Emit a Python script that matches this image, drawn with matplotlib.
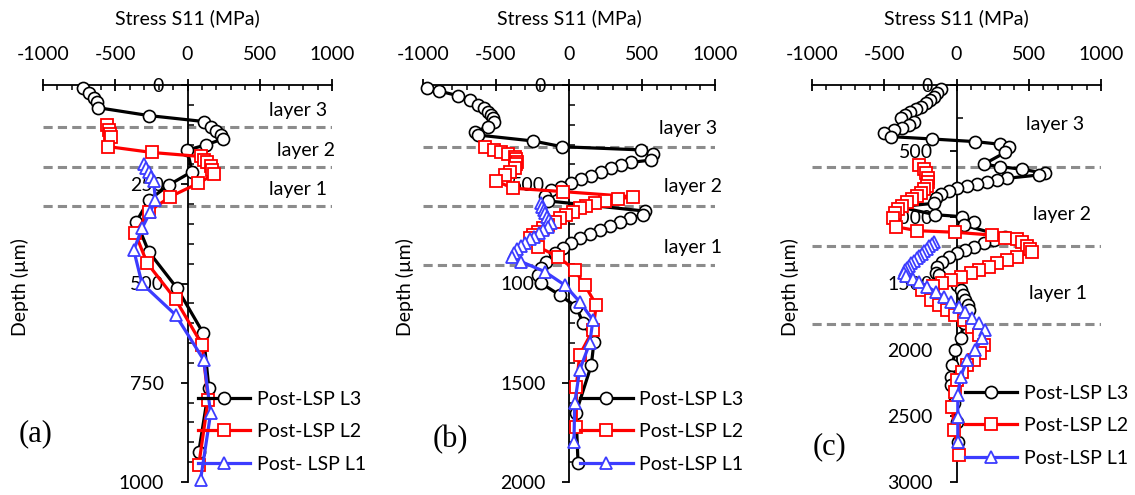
import matplotlib
matplotlib.use('Agg')
import matplotlib.pyplot as plt
from matplotlib.ticker import MultipleLocator

plt.rcParams['font.family'] = ['Lato', 'DejaVu Sans']

# ---------------- data (stress in MPa, depth in um) ----------------
# Panel (a)
a_L3_stress = [-720, -685, -650, -627, -622, -268, 113, 160, 194, 229, 245, 125, -2, 32, -130, -268, -354, -268, -72, 109, 148, 78]
a_L3_depth = [7, 21, 34, 44, 57, 77, 92, 105, 116, 126, 136, 151, 164, 218, 252, 290, 344, 420, 512, 625, 764, 924]
a_L2_stress = [-557, -546, -534, -530, -553, -245, 90, 113, 137, 160, 171, 183, 72, -118, -268, -361, -280, -83, 102, 143, 78]
a_L2_depth = [102, 113, 124, 131, 155, 170, 180, 189, 195, 203, 214, 225, 248, 281, 319, 374, 448, 540, 655, 793, 957]
a_L1_stress = [-303, -285, -268, -252, -234, -222, -257, -315, -372, -315, -83, 113, 160, 90]
a_L1_depth = [200, 210, 220, 231, 243, 290, 319, 361, 416, 500, 579, 693, 827, 995]

# Panel (b)
b_L3_stress = [-971, -893, -760, -680, -623, -582, -555, -532, -521, -514, -555, -646, -623, -247, -46, 495, 575, 564, 422,
               358, 290, 221, 153, 84, 16, -53, -121, -167, -144, 518, 507, 416, 347, 279, 210, 142, 73, 16, -41, -98,
               -155, -190, -212, -190, -64, 50, 96, 171, 153, 48, 62]
b_L3_depth = [13, 30, 54, 76, 101, 118, 134, 151, 168, 185, 210, 235, 252, 282, 311, 327, 350, 378, 390,
              403, 420, 437, 457, 474, 495, 512, 529, 558, 584, 635, 655, 672, 689, 709, 730, 752, 772, 798, 823, 848,
              890, 924, 957, 999, 1058, 1117, 1200, 1293, 1411, 1652, 1906]
b_L2_stress = [-573, -514, -464, -418, -372, -361, -354, -361, -372, -406, -440, -498, -384, -41, 438, 336, 245, 176, 119,
               73, 27, -18, -64, -98, -144, -178, -212, -247, -269, -212, -75, 39, 108, 187, 164, 73, 50, 50]
b_L2_depth = [311, 327, 339, 349, 361, 373, 386, 400, 416, 437, 453, 484, 520, 537, 563, 574, 584, 596, 610,
              621, 638, 655, 672, 689, 705, 722, 739, 756, 772, 815, 865, 932, 1008, 1108, 1234, 1360, 1520, 1721]
b_L1_stress = [-194, -185, -173, -162, -148, -135, -125, -144, -178, -208, -240, -269, -299, -327, -354, -377, -390, -327,
               -167, -29, 73, 164, 142, 73, 39, 34]
b_L1_depth = [596, 613, 630, 646, 663, 680, 697, 714, 730, 747, 764, 777, 794, 810, 826, 848, 865, 890,
              940, 1008, 1092, 1184, 1301, 1436, 1604, 1797]

# Panel (c)
c_L3_stress = [-110, -133, -157, -184, -214, -248, -283, -322, -359, -386, -294, -329, -375, -432, -501, -455, -168, 131,
               304, 361, 338, 188, 304, 453, 614, 568, 350, 281, 212, 143, 74, 5, -53, -110, -145, -157, -400, -150,
               40, 119, 50, 338, 257, 188, 119, 62, 5, -53, -99, -133, -145, -122, 5, 28, 46, 62, 78, 85, 50, 28, -7,
               -30, -41, -41, -20, 0, 10]
c_L3_depth = [30, 63, 88, 113, 138, 164, 184, 206, 227, 247, 277, 302, 322, 340, 365, 390, 408, 428,
              448, 466, 509, 599, 617, 637, 667, 680, 705, 718, 730, 748, 763, 781, 798, 824, 856, 894, 920, 980,
              995, 1033, 1058, 1146, 1171, 1196, 1222, 1247, 1272, 1297, 1335, 1373, 1423, 1436, 1511, 1549, 1587,
              1625, 1663, 1700, 1800, 1914, 2003, 2116, 2204, 2267, 2400, 2550, 2700]
c_L2_stress = [-260, -226, -208, -198, -198, -207, -226, -248, -276, -306, -340, -375, -402, -426, -437, -421, -271, -7,
               246, 338, 418, 450, 488, 511, 522, 418, 350, 281, 223, 154, 97, 28, -41, -99, -160, -237, -179, -122,
               -64, -7, 50, 108, 154, 189, 166, 119, 74, 39, 5, -7, -30, -14, 16]
c_L2_depth = [605, 635, 668, 700, 730, 761, 788, 814, 836, 862, 887, 912, 937, 970, 1008, 1071, 1101, 1113,
              1134, 1159, 1165, 1190, 1215, 1240, 1262, 1297, 1322, 1348, 1373, 1398, 1423, 1449, 1474, 1499, 1520,
              1549, 1625, 1663, 1700, 1738, 1776, 1826, 1889, 1965, 2028, 2078, 2116, 2166, 2229, 2318, 2431, 2607,
              2796]
c_L1_stress = [-157, -172, -188, -205, -222, -240, -258, -276, -294, -312, -328, -342, -355, -364, -352, -300, -260, -202,
               -145, -87, -41, 16, 62, 108, 154, 200, 177, 131, 74, 28, 9, 9, 9]
c_L1_depth = [1184, 1202, 1220, 1238, 1256, 1274, 1292, 1310, 1328, 1346, 1364, 1382, 1400, 1420, 1440, 1465, 1486, 1524,
              1562, 1600, 1637, 1675, 1713, 1763, 1801, 1851, 1914, 2003, 2078, 2204, 2343, 2507, 2696]

layer_a = [106, 207, 305]
layer_b = [310, 610, 905]
layer_c = [620, 1215, 1805]

x_ticks = [-1000, -500, 0, 500, 1000]
labels_L = ['Post-LSP L3', 'Post-LSP L2']

# ---------------- figure ----------------
W, H = 1135, 495
fig = plt.figure(figsize=(W / 100, H / 100), dpi=100)

FS = 14
BLUE = '#3c3cff'


def px_rect(x0, x1, y0, y1):
    return [x0 / W, 1 - y1 / H, (x1 - x0) / W, (y1 - y0) / H]


def panel(rect, series, ymax, ymajor, yminor, layers, layer_pos, leg_anchor, l1_label, ylabx, tag, tagpos):
    ax = fig.add_axes(rect)
    ax.set_xlim(-1000, 1000)
    ax.set_ylim(ymax, 0)
    for s in ['right', 'bottom']:
        ax.spines[s].set_visible(False)
    ax.spines['left'].set_position(('data', 0))
    for s in ['left', 'top']:
        ax.spines[s].set_linewidth(1.3)
    ax.xaxis.tick_top()
    ax.xaxis.set_label_position('top')
    ax.set_xticks(x_ticks)
    ax.xaxis.set_minor_locator(MultipleLocator(100))
    ax.yaxis.set_major_locator(MultipleLocator(ymajor))
    ax.yaxis.set_minor_locator(MultipleLocator(yminor))
    ax.tick_params(axis='x', which='major', direction='inout', length=9, width=1.3, pad=11, labelsize=FS)
    ax.tick_params(axis='x', which='minor', direction='in', length=3.5, width=1.1)
    ax.tick_params(axis='y', which='major', direction='out', length=5, width=1.3, pad=12, labelsize=FS)
    ax.tick_params(axis='y', which='minor', direction='in', length=4, width=1.1)
    ax.set_xticklabels([str(v) for v in x_ticks])

    for d in layers:
        ax.axhline(d, color='#8c8c8c', lw=2.2, ls=(0, (3, 1.7)), zorder=1)

    (s3, d3), (s2, d2), (s1, d1) = series
    ax.plot(s3, d3, '-o', color='black', lw=2.3, ms=8.7, mfc='white', mec='black', mew=1.2,
            label=labels_L[0], clip_on=False, zorder=3)
    ax.plot(s2, d2, '-s', color='red', lw=2.3, ms=8.7, mfc='white', mec='red', mew=1.3,
            label=labels_L[1], clip_on=False, zorder=4)
    ax.plot(s1, d1, '-^', color=BLUE, lw=2.3, ms=9, mfc='white', mec=BLUE, mew=1.3,
            label=l1_label, clip_on=False, zorder=5)

    for (xv, yv), t in zip(layer_pos, ['layer 3', 'layer 2', 'layer 1']):
        ax.text(xv, yv, t, ha='center', va='center', fontsize=FS)

    ax.legend(loc='upper left', bbox_to_anchor=leg_anchor, frameon=False, fontsize=FS,
              handlelength=2.7, handletextpad=0.35, labelspacing=0.8, borderpad=0, borderaxespad=0)

    ax.set_xlabel('Stress S11 (MPa)', fontsize=FS, va='center')
    ax.xaxis.set_label_coords(0.5, 1 + (85 - 18) / 397)
    ax.set_ylabel('Depth (\u00b5m)', fontsize=FS, va='center')
    ax.yaxis.set_label_coords(ylabx, 0.49)
    fig.text(tagpos[0] / W, 1 - tagpos[1] / H, tag, fontsize=22, family='Liberation Serif',
             ha='center', va='center')
    return ax


panel(px_rect(43, 332, 85, 482),
      [(a_L3_stress, a_L3_depth), (a_L2_stress, a_L2_depth), (a_L1_stress, a_L1_depth)],
      1000, 250, 50, layer_a, [(763, 63), (819, 164), (763, 262)],
      (0.536, 0.23), 'Post- LSP L1', -0.08, '(a)', (36, 434))

panel(px_rect(423, 715, 85, 482),
      [(b_L3_stress, b_L3_depth), (b_L2_stress, b_L2_depth), (b_L1_stress, b_L1_depth)],
      2000, 500, 100, layer_b, [(815, 217), (850, 509), (850, 821)],
      (0.538, 0.23), 'Post-LSP L1', -0.062, '(b)', (450, 440))

panel(px_rect(812, 1101, 85, 482),
      [(c_L3_stress, c_L3_depth), (c_L2_stress, c_L2_depth), (c_L1_stress, c_L1_depth)],
      3000, 500, 250, layer_c, [(683, 302), (731, 975), (704, 1572)],
      (0.529, 0.245), 'Post-LSP L1', -0.076, '(c)', (829, 447))

fig.savefig('out.png', dpi=100)
